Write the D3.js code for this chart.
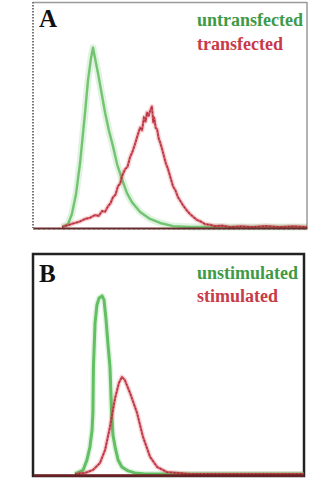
<!DOCTYPE html>
<html>
<head>
<meta charset="utf-8">
<script src="https://cdn.jsdelivr.net/npm/d3@7"></script>
<style>
  html, body { margin: 0; padding: 0; background: #fff; }
  svg { display: block; }
</style>
</head>
<body>
<svg id="chart" width="336" height="480"></svg>
<script>
// Fluorescence histograms: channel (0-100) vs. relative cell count (0-100)

// Panel A
const untransfectedX = [10.6, 12.8, 14.2, 15.7, 17.2, 19.0, 20.1, 21.2, 21.9, 22.6, 23.7, 24.8, 26.3, 27.7, 29.2, 30.7, 32.5, 34.3, 36.1, 39.1, 42.7, 46.4, 51.1, 57.3, 100];
const untransfectedY = [0, 1.3, 5.8, 14.7, 28.9, 51.1, 65.8, 75.6, 80, 75.6, 68.9, 61.3, 51.1, 43.1, 36, 28, 21.3, 15.1, 11.1, 6.7, 3.6, 1.8, 0.4, 0, 0];

const transfectedX = [10.6, 15.3, 17.0, 19.0, 20.8, 22.6, 24.0, 25.2, 26.3, 27.4, 28.3, 29.2, 30.1, 31.0, 31.8, 32.5, 33.6, 34.5, 35.4, 36.3, 37.2, 38.2, 39.1, 39.8, 40.5, 41.1, 41.6, 42.2, 42.7, 43.4, 43.9, 44.2, 44.8, 45.3, 45.9, 46.4, 47.1, 47.8, 48.5, 49.3, 50.2, 51.1, 52.0, 52.9, 53.8, 54.7, 56.0, 57.3, 58.6, 59.9, 61.3, 62.8, 64.6, 66.4, 69.0, 71.9, 76, 80, 85, 90, 95, 100];
const transfectedY = [0, 1.8, 2.4, 3.6, 4.1, 5.3, 5.0, 7.1, 6.8, 9.3, 10.6, 13.3, 14.4, 18.2, 19.4, 22.7, 25.8, 26.9, 31.1, 33.6, 36.9, 41.0, 44.4, 43.2, 48.9, 47.1, 51.1, 49.6, 51.6, 53.8, 46.7, 48.9, 44.2, 43.6, 39.4, 37.8, 34.9, 31.6, 28.4, 25.8, 22.0, 18.2, 16.3, 13.3, 11.6, 9.8, 7.6, 5.8, 4.4, 3.1, 2.4, 1.3, 1.0, 0.4, 0.6, 0, 0.3, 0, 0.4, 0, 0.3, 0];

// Panel B
const unstimulatedX = [15.5, 18.5, 19.9, 21.0, 21.8, 22.1, 22.3, 22.9, 23.6, 24.4, 25.5, 26.2, 26.9, 27.7, 28.4, 29.0, 29.5, 30.3, 31.4, 32.8, 35.1, 37.6, 41.3, 100];
const unstimulatedY = [0, 1.8, 6.4, 12.3, 20.1, 27.9, 48.9, 68.9, 77.2, 80.4, 81.3, 79.5, 71.2, 58.9, 48.9, 27.9, 17.8, 12.3, 6.4, 3.2, 1.4, 0.5, 0, 0];

const stimulatedX = [15.5, 19.2, 22.1, 24.7, 26.6, 28.4, 30.3, 31.7, 32.8, 33.9, 35.8, 38.4, 40.6, 43.2, 45.8, 49.4, 53.1, 57.9, 100];
const stimulatedY = [0, 0.5, 1.8, 5, 11, 21.5, 34.7, 41.6, 44.3, 42.9, 37, 27.9, 16.9, 7.8, 3.2, 0.9, 0.5, 0, 0];

const panelLabels = ["A", "B"];
const legendA = ["untransfected", "transfected"];
const legendB = ["unstimulated", "stimulated"];

const GREEN = "#55b955";
const RED = "#d23c4a";

const svg = d3.select("#chart");

const defs = svg.append("defs");
defs.append("filter").attr("id", "soft")
  .append("feGaussianBlur").attr("stdDeviation", 0.45);

const zip = (xs, ys) => xs.map((x, i) => [x, ys[i]]);

function drawSeries(g, x, y, xs, ys, color, opts) {
  const line = d3.line().x(d => x(d[0])).y(d => y(d[1])).curve(d3.curveLinear);
  const pts = zip(xs, ys);
  // pale halo
  g.append("path").attr("d", line(pts)).attr("fill", "none")
    .attr("stroke", color).attr("stroke-opacity", 0.18)
    .attr("stroke-width", opts.halo).attr("stroke-linejoin", "round");
  g.append("path").attr("d", line(pts)).attr("fill", "none")
    .attr("stroke", color).attr("stroke-width", opts.width)
    .attr("stroke-opacity", opts.opacity).attr("stroke-linejoin", "round")
    .attr("filter", "url(#soft)");
  if (opts.speckle) {
    g.append("path").attr("d", line(pts)).attr("fill", "none")
      .attr("stroke", opts.speckle).attr("stroke-width", 1.3)
      .attr("stroke-opacity", 0.6).attr("stroke-dasharray", "1.5,2.2");
  }
}

const labelFont = "Liberation Serif, serif";

// ---------- Panel A ----------
{
  const x = d3.scaleLinear().domain([0, 100]).range([33, 307]);
  const y = d3.scaleLinear().domain([0, 100]).range([227, 3]);
  const g = svg.append("g");

  // frame: light grey top/right, dotted left, dark baseline
  g.append("line").attr("x1", x(0)).attr("x2", x(100)).attr("y1", 2.5).attr("y2", 2.5)
    .attr("stroke", "#9a9a9a").attr("stroke-width", 1.5);
  g.append("line").attr("x1", x(100)).attr("x2", x(100)).attr("y1", 2).attr("y2", 228)
    .attr("stroke", "#9a9a9a").attr("stroke-width", 1.5);
  g.append("line").attr("x1", x(0)).attr("x2", x(0)).attr("y1", 2).attr("y2", 228)
    .attr("stroke", "#777").attr("stroke-width", 2).attr("stroke-dasharray", "1.5,1.5");

  drawSeries(g, x, y, untransfectedX, untransfectedY, GREEN, { width: 2.4, halo: 7, opacity: 0.8 });
  drawSeries(g, x, y, transfectedX, transfectedY, RED, { width: 2.2, halo: 5, opacity: 0.85, speckle: "#6b1c2a" });

  const axis = d3.axisBottom(x).tickValues([]).tickSizeOuter(0);
  g.append("g").attr("transform", "translate(0,228)").call(axis)
    .select(".domain").attr("stroke", "#6a2a2a").attr("stroke-width", 2);
  g.append("line").attr("x1", x(0)).attr("x2", x(100)).attr("y1", 229).attr("y2", 229)
    .attr("stroke", "#444").attr("stroke-width", 1).attr("stroke-dasharray", "2,3")
    .attr("stroke-opacity", 0.6);

  g.append("text").text(panelLabels[0]).attr("x", 39).attr("y", 27)
    .attr("font-family", labelFont).attr("font-weight", "bold")
    .attr("font-size", 25).attr("fill", "#111");
  g.append("text").text(legendA[0]).attr("x", 197).attr("y", 26)
    .attr("font-family", labelFont).attr("font-weight", "bold")
    .attr("font-size", 18).attr("fill", "#3f9a48");
  g.append("text").text(legendA[1]).attr("x", 197).attr("y", 50)
    .attr("font-family", labelFont).attr("font-weight", "bold")
    .attr("font-size", 18).attr("fill", "#c83a48");
}

// ---------- Panel B ----------
{
  const x = d3.scaleLinear().domain([0, 100]).range([33, 304]);
  const y = d3.scaleLinear().domain([0, 100]).range([474, 255]);
  const g = svg.append("g");

  g.append("rect").attr("x", 33).attr("y", 254).attr("width", 271).attr("height", 222)
    .attr("fill", "none").attr("stroke", "#222").attr("stroke-width", 2.5);

  drawSeries(g, x, y, unstimulatedX, unstimulatedY, GREEN, { width: 3, halo: 6, opacity: 0.9 });
  drawSeries(g, x, y, stimulatedX, stimulatedY, RED, { width: 2.2, halo: 5, opacity: 0.85, speckle: "#6b1c2a" });

  const axis = d3.axisBottom(x).tickValues([]).tickSizeOuter(0);
  g.append("g").attr("transform", "translate(0,475)").call(axis)
    .select(".domain").attr("stroke", "#6e1f24").attr("stroke-width", 2.5);

  g.append("text").text(panelLabels[1]).attr("x", 39).attr("y", 282)
    .attr("font-family", labelFont).attr("font-weight", "bold")
    .attr("font-size", 25).attr("fill", "#111");
  g.append("text").text(legendB[0]).attr("x", 197).attr("y", 279)
    .attr("font-family", labelFont).attr("font-weight", "bold")
    .attr("font-size", 18).attr("fill", "#3f9a48");
  g.append("text").text(legendB[1]).attr("x", 197).attr("y", 302)
    .attr("font-family", labelFont).attr("font-weight", "bold")
    .attr("font-size", 18).attr("fill", "#c83a48");
}
</script>
</body>
</html>
